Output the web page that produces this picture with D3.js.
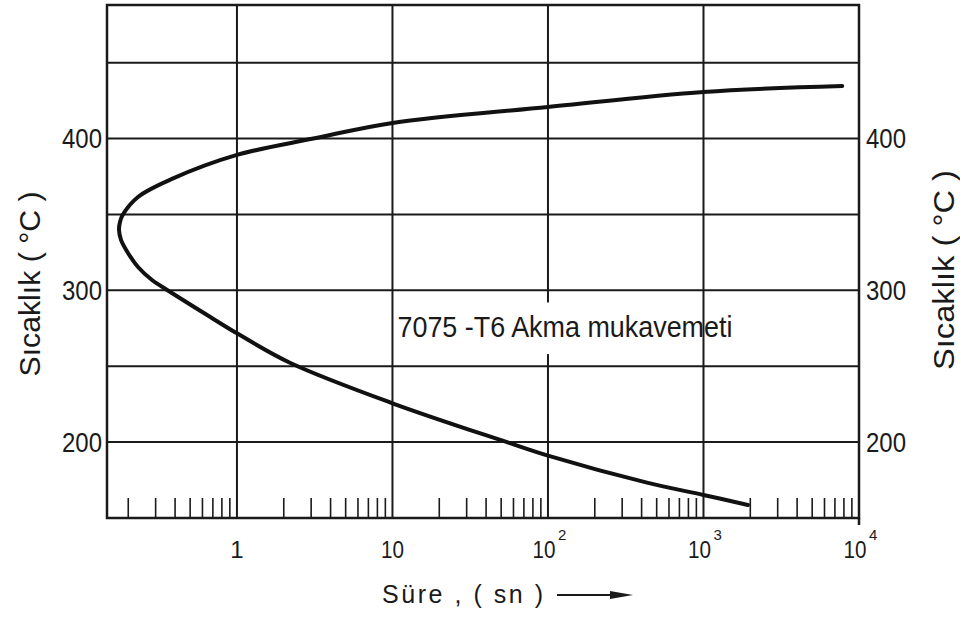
<!DOCTYPE html>
<html>
<head>
<meta charset="utf-8">
<script src="https://cdn.jsdelivr.net/npm/d3@7"></script>
<style>
  html, body { margin: 0; padding: 0; background: #fff; }
  svg { display: block; font-family: 'Liberation Sans', Arial, sans-serif; }
</style>
</head>
<body>
<svg id="chart"></svg>
<script>
// curve, from the upper right end round the nose to the lower end
const curveTime = [7800, 1000, 100, 10, 3.1, 1, 0.382, 0.231, 0.184, 0.177, 0.1744, 0.1796, 0.1992, 0.2311, 0.2842, 0.36, 0.67, 1, 2.19, 10, 54, 100, 433, 1000, 1930]
const curveTemp = [434.6, 430.7, 420.8, 410.3, 400, 389.2, 373.4, 361.5, 349.6, 345, 339.8, 333.2, 324.6, 315.4, 306.8, 299.9, 282.6, 271.7, 252.3, 225.6, 200.1, 191.1, 173.3, 165.2, 158.6]

const decades = [1, 10, 100, 1000, 10000]
const decadeLabels = [['1', ''], ['10', ''], ['10', '2'], ['10', '3'], ['10', '4']]
const gridTemps = [200, 250, 300, 350, 400, 450]
const labelTemps = [200, 300, 400]
const annotation = '7075 -T6 Akma mukavemeti'
const yTitle = 'Sıcaklık ( °C )'
const xTitle = 'Süre , ( sn )'

const width = 960
const height = 619

const svg = d3.select('#chart')
  .attr('width', width)
  .attr('height', height)

const x = d3.scaleLog().domain([0.146, 1e4]).range([107, 859])
const y = d3.scaleLinear().domain([150, 488]).range([518, 5])

const ink = '#1a1a1a'

// minor ticks along the bottom
const minorTicks = []
;[0.1, 1, 10, 100, 1000].forEach(d => {
  for (let k = 2; k <= 9; k++) minorTicks.push(d * k)
})

svg.append('g')
  .selectAll('line')
  .data(minorTicks.filter(d => d > x.domain()[0]))
  .join('line')
  .attr('x1', d => x(d)).attr('x2', d => x(d))
  .attr('y1', y(150)).attr('y2', y(150) - 20)
  .attr('stroke', ink)
  .attr('stroke-width', 1.6)

// horizontal grid
svg.append('g')
  .selectAll('line')
  .data(gridTemps)
  .join('line')
  .attr('x1', x.range()[0]).attr('x2', x.range()[1])
  .attr('y1', d => y(d)).attr('y2', d => y(d))
  .attr('stroke', ink)
  .attr('stroke-width', 2)

// vertical grid
svg.append('g')
  .selectAll('line')
  .data(decades.slice(0, 4))
  .join('line')
  .attr('x1', d => x(d)).attr('x2', d => x(d))
  .attr('y1', y.range()[1]).attr('y2', y.range()[0])
  .attr('stroke', ink)
  .attr('stroke-width', 2)

// frame
svg.append('rect')
  .attr('x', x.range()[0]).attr('y', y.range()[1])
  .attr('width', x.range()[1] - x.range()[0])
  .attr('height', y.range()[0] - y.range()[1])
  .attr('fill', 'none')
  .attr('stroke', ink)
  .attr('stroke-width', 2.5)

svg.append('line')
  .attr('x1', x(1e4)).attr('x2', x(1e4))
  .attr('y1', y(150)).attr('y2', y(150) + 7)
  .attr('stroke', ink).attr('stroke-width', 2.5)

// annotation, blanking the 10^2 line behind it
svg.append('rect')
  .attr('x', x(10) + 4).attr('y', y(292))
  .attr('width', x(1000) - x(10) - 8)
  .attr('height', y(258) - y(292))
  .attr('fill', '#fff')

svg.append('text')
  .attr('x', x(10) + 5)
  .attr('y', 337)
  .attr('font-size', 29)
  .attr('textLength', 335)
  .attr('lengthAdjust', 'spacingAndGlyphs')
  .attr('fill', ink)
  .text(annotation)

// curve
const pts = curveTime.map((t, i) => [x(t), y(curveTemp[i])])
svg.append('path')
  .attr('d', d3.line().curve(d3.curveCatmullRom.alpha(0.5))(pts))
  .attr('fill', 'none')
  .attr('stroke', '#111')
  .attr('stroke-width', 4)
  .attr('stroke-linecap', 'round')
  .attr('stroke-linejoin', 'round')

// y labels both sides
const yl = svg.append('g').attr('font-size', 27).attr('fill', ink)
yl.selectAll('text.l')
  .data(labelTemps)
  .join('text')
  .attr('class', 'l')
  .attr('x', x.range()[0] - 45)
  .attr('y', d => y(d))
  .attr('dy', '0.36em')
  .attr('textLength', 40)
  .attr('lengthAdjust', 'spacingAndGlyphs')
  .text(d => d)
yl.selectAll('text.r')
  .data(labelTemps)
  .join('text')
  .attr('class', 'r')
  .attr('x', x.range()[1] + 7)
  .attr('y', d => y(d))
  .attr('dy', '0.36em')
  .attr('textLength', 40)
  .attr('lengthAdjust', 'spacingAndGlyphs')
  .text(d => d)

// x labels
const xl = svg.append('g').attr('fill', ink)
decades.forEach((d, i) => {
  const [base, exp] = decadeLabels[i]
  const cx = exp ? x(d) - 4 : x(d)
  const t = xl.append('text')
    .attr('x', cx).attr('y', 558)
    .attr('font-size', 24)
    .attr('text-anchor', 'middle')
    .text(base)
  if (base.length > 1) t.attr('textLength', 23).attr('lengthAdjust', 'spacingAndGlyphs')
  if (exp) {
    xl.append('text')
      .attr('x', cx + 14).attr('y', 540)
      .attr('font-size', 15)
      .text(exp)
  }
})

// axis titles
svg.append('text')
  .attr('transform', 'translate(40,284) rotate(-90)')
  .attr('text-anchor', 'middle')
  .attr('font-size', 29)
  .attr('textLength', 185)
  .attr('lengthAdjust', 'spacingAndGlyphs')
  .attr('fill', ink)
  .text(yTitle)
svg.append('text')
  .attr('transform', 'translate(954,270) rotate(-90)')
  .attr('text-anchor', 'middle')
  .attr('font-size', 29)
  .attr('textLength', 200)
  .attr('lengthAdjust', 'spacingAndGlyphs')
  .attr('fill', ink)
  .text(yTitle)

svg.append('text')
  .attr('x', 382).attr('y', 603)
  .attr('font-size', 25)
  .attr('textLength', 161)
  .attr('fill', ink)
  .text(xTitle)

svg.append('line')
  .attr('x1', 557).attr('x2', 620)
  .attr('y1', 595).attr('y2', 595)
  .attr('stroke', ink).attr('stroke-width', 2)
svg.append('path')
  .attr('d', 'M610,591 L633,595 L610,599 Z')
  .attr('fill', ink)
</script>
</body>
</html>
